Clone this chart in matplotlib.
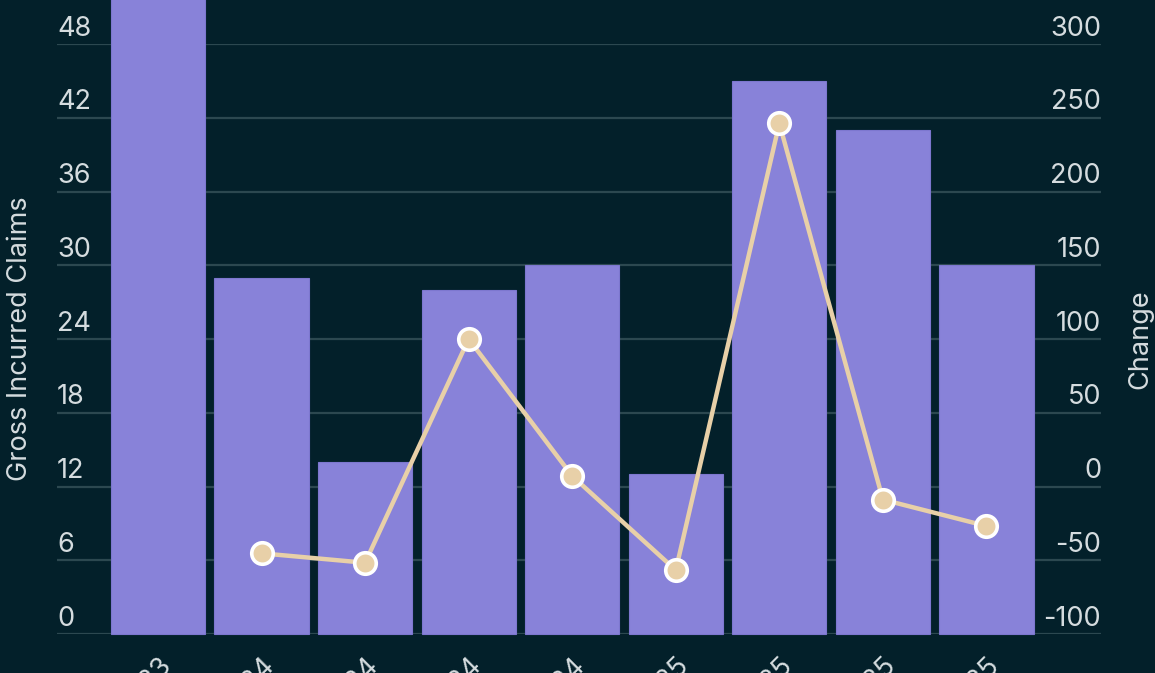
import matplotlib
matplotlib.use("Agg")
import matplotlib.pyplot as plt
import matplotlib.transforms as mtransforms

# data
quarters = ["Q4 2023", "Q1 2024", "Q2 2024", "Q3 2024", "Q4 2024",
            "Q1 2025", "Q2 2025", "Q3 2025", "Q4 2025"]
claims = [53, 29, 14, 28, 30, 13, 45, 41, 30]
change = [None, -45.3, -51.7, 100.0, 7.1, -56.7, 246.2, -8.9, -26.8]

left_ticks = [0, 6, 12, 18, 24, 30, 36, 42, 48]
right_ticks = [-100, -50, 0, 50, 100, 150, 200, 250, 300]

BG = "#03202a"
GRID = "#2c4850"
TXT = "#d5dcdf"
BAR = "#8882d9"
LINE = "#e8d0a8"
FS = 19.5

plt.rcParams["font.family"] = ["Inter", "DejaVu Sans"]

fig = plt.figure(figsize=(11.55, 6.73), dpi=100, facecolor=BG)
ax = fig.add_axes([57 / 1155, 1 - 634 / 673, (1101 - 57) / 1155, (634 - 44) / 673])
ax.set_facecolor(BG)
ax2 = ax.twinx()

x = list(range(len(quarters)))
ax.bar(x, claims, width=0.91, color=BAR, edgecolor="#7d77cf", linewidth=0.8,
       zorder=2, clip_on=False)
ax.set_xlim(-0.975, 9.106)
ax.set_ylim(0, 48)
ax2.set_ylim(-100, 300)

for t in left_ticks:
    ax.axhline(t, color=GRID, linewidth=1.6, zorder=1)

cx = [i for i, c in zip(x, change) if c is not None]
cy = [c for c in change if c is not None]
ax2.plot(cx, cy, color=LINE, linewidth=3.2, zorder=3)
ax2.plot(cx, cy, linestyle="none", marker="o", markersize=15.5,
         markerfacecolor=LINE, markeredgecolor="white", markeredgewidth=2.6,
         zorder=4)

for a in (ax, ax2):
    for s in a.spines.values():
        s.set_visible(False)
    a.tick_params(length=0)
    a.set_yticks([])
ax.set_xticks(x)
ax.set_xticklabels(quarters, rotation=45, ha="right", rotation_mode="anchor",
                   color=TXT, fontsize=FS)
ax.tick_params(axis="x", pad=14)

# tick labels sit just above the grid lines
off = mtransforms.ScaledTranslation(0, 6 / 72, fig.dpi_scale_trans)
tl = mtransforms.blended_transform_factory(ax.transAxes, ax.transData) + off
for t in left_ticks:
    ax.text(0, t, str(t), transform=tl, ha="left", va="baseline",
            color=TXT, fontsize=FS)
tr = mtransforms.blended_transform_factory(ax2.transAxes, ax2.transData) + off
for t in right_ticks:
    ax2.text(1, t, str(t), transform=tr, ha="right", va="baseline",
             color=TXT, fontsize=FS)

fig.text(20 / 1155, 1 - 339 / 673, "Gross Incurred Claims", rotation=90,
         ha="center", va="center", color=TXT, fontsize=FS)
fig.text(1140 / 1155, 1 - 339 / 673, "Change", rotation=90,
         ha="center", va="center", color=TXT, fontsize=FS)

fig.savefig("out.png", dpi=100, facecolor=BG)
